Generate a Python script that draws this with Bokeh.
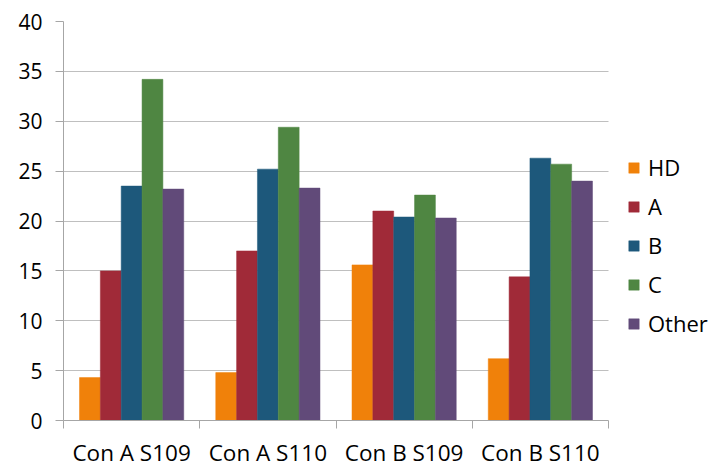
import numpy as np
from bokeh.plotting import figure
from bokeh.models import Range1d, FixedTicker, Legend, LegendItem, ColumnDataSource, BoxAnnotation
from bokeh.embed import file_html
from bokeh.resources import INLINE

categories = ["Con A S109", "Con A S110", "Con B S109", "Con B S110"]
series = ["HD", "A", "B", "C", "Other"]
hd = [4.3, 4.8, 15.6, 6.2]
a = [15.0, 17.0, 21.0, 14.4]
b = [23.5, 25.2, 20.4, 26.3]
c = [34.2, 29.4, 22.6, 25.7]
other = [23.2, 23.3, 20.3, 24.0]
values = [hd, a, b, c, other]
colors = ["#F0810A", "#A02A38", "#1D587B", "#4F8642", "#614A79"]

FONT = "Open Sans"
W, H = 713, 470
LEFT, TOP, BOTTOM = 63, 21, 50
PLOT_RIGHT = 608  # right edge of the bar area in pixels
ncat = len(categories)
x_end = ncat * (W - LEFT) / (PLOT_RIGHT - LEFT)

p = figure(width=W, height=H, output_backend="svg", toolbar_location=None,
           x_range=Range1d(0, x_end), y_range=Range1d(0, 40),
           min_border_left=LEFT, min_border_top=TOP, min_border_bottom=BOTTOM,
           min_border_right=0)
p.outline_line_color = None
p.background_fill_color = "white"
p.border_fill_color = "white"

bw = 0.153
centers = np.arange(ncat) + 0.5
items = []
for j, (name, vals, col) in enumerate(zip(series, values, colors)):
    src = ColumnDataSource(dict(x=centers + (j - 2) * bw, top=vals))
    r = p.vbar(x="x", top="top", bottom=0, width=bw, source=src,
               fill_color=col, line_color=col, line_width=0.5)
    items.append(LegendItem(label=name, renderers=[r]))

# y axis
p.yaxis.ticker = FixedTicker(ticks=list(range(0, 41, 5)))
p.yaxis.axis_line_color = "#A6A6A6"
p.yaxis.major_tick_line_color = "#A6A6A6"
p.yaxis.major_tick_out = 8
p.yaxis.major_tick_in = 0
p.yaxis.minor_tick_line_color = None
p.yaxis.major_label_text_font = FONT
p.yaxis.major_label_text_font_size = "21px"
p.yaxis.major_label_text_color = "black"
p.yaxis.major_label_standoff = 13

# x axis: labels at category centres, ticks at boundaries
p.xaxis.bounds = (0, ncat)
p.xaxis.ticker = FixedTicker(ticks=list(centers), minor_ticks=list(range(0, ncat + 1)))
p.xaxis.major_label_overrides = {float(cx): cat for cx, cat in zip(centers, categories)}
p.xaxis.axis_line_color = "#A6A6A6"
p.xaxis.major_tick_line_color = None
p.xaxis.minor_tick_line_color = "#A6A6A6"
p.xaxis.minor_tick_out = 8
p.xaxis.minor_tick_in = 0
p.xaxis.major_tick_out = 8
p.xaxis.major_label_text_font = FONT
p.xaxis.major_label_text_font_size = "22.5px"
p.xaxis.major_label_text_color = "black"
p.xaxis.major_label_standoff = 8

p.xgrid.visible = False
p.ygrid.ticker = FixedTicker(ticks=list(range(5, 41, 5)))
p.ygrid.grid_line_color = "#BFBFBF"
p.ygrid.grid_line_width = 1

# blank out the area right of the bar region (legend area)
p.add_layout(BoxAnnotation(left=ncat, fill_color="white", fill_alpha=1.0,
                           line_color=None, level="glyph"))

legend = Legend(items=items, location=(564, 82))
legend.border_line_color = None
legend.background_fill_alpha = 0
legend.label_text_font = FONT
legend.label_text_font_size = "22px"
legend.label_text_color = "black"
legend.glyph_width = 13
legend.glyph_height = 13
legend.label_standoff = 8
legend.spacing = 9
legend.padding = 10
legend.margin = 0
p.add_layout(legend, "center")

open("out.html", "w").write(file_html(p, INLINE))
